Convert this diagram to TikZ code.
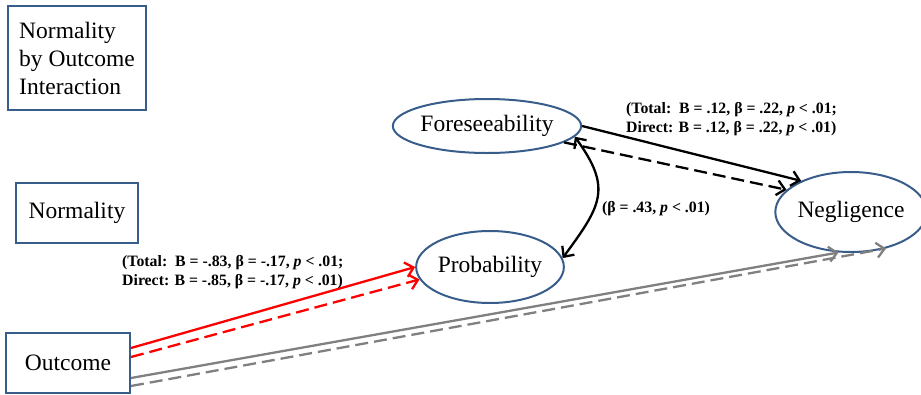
\documentclass[tikz,border=0pt]{standalone}
\usepackage{fontspec}
\setmainfont{Liberation Serif}
\usetikzlibrary{arrows.meta,positioning,shapes.geometric}
\definecolor{frameblue}{RGB}{56,93,138}
\definecolor{pathgray}{RGB}{128,128,128}
\begin{document}
\begin{tikzpicture}[x=1pt,y=-1pt,
box/.style={draw=frameblue,line width=2pt,align=left,inner sep=0pt,font=\fontsize{23.5}{28}\selectfont},
oval/.style={ellipse,draw=frameblue,line width=2pt,inner sep=0pt,font=\fontsize{23.5}{28}\selectfont},
lbl/.style={font=\bfseries\fontsize{15.8}{18.5}\selectfont,align=left,inner sep=0pt},
arr/.style={-{Straight Barb[length=8pt,width=15pt]},line width=2.3pt},
darr/.style={{Straight Barb[length=8pt,width=15pt]}-{Straight Barb[length=8pt,width=15pt]},line width=2.3pt},
dsh/.style={dash pattern=on 13pt off 6pt}]
\useasboundingbox (0,0) rectangle (921,394);
\node[box,minimum width=138pt,minimum height=104pt](inter) at (77,58){Normality\\by Outcome\\Interaction};
\node[box,minimum width=122pt,minimum height=60pt](norm) at (77,213){Normality};
\node[box,minimum width=124pt,minimum height=60pt](outc) at (68,363){Outcome};
\node[oval,minimum width=187pt,minimum height=54pt](fore) at (487,126){Foreseeability};
\node[oval,minimum width=146pt,minimum height=72pt](prob) at (490,267){Probability};
\node[oval,minimum width=136pt,minimum height=80pt](negl) at (851,212){Negligence};
% paths from outcome
\draw[arr,red]([yshift=15pt]outc.east)--(prob.west);
\draw[arr,red,dsh]([yshift=6pt]outc.east)--(prob.190);
\draw[arr,pathgray]([yshift=-15pt]outc.east)--(negl.253);
\draw[arr,pathgray,dsh]([yshift=-23pt]outc.east)--(negl.314);
% paths from foreseeability
\draw[arr](fore.east)--(negl.148);\draw[arr,dsh](fore.-12)--(negl.161);
\draw[darr](fore.-7) .. controls +(38,52) and +(38,-52) .. (prob.7);
% coefficients
\node[lbl,anchor=west](forecoef) at (626,119){(Total:\ \ B = .12, β = .22, \textit{p} < .01;\\Direct: B = .12, β = .22, \textit{p} < .01)};
\node[lbl](corrcoef) at (656,209){(β = .43, \textit{p} < .01)};
\node[lbl,anchor=west](probcoef) at (122,272){(Total:\ \ B = -.83, β = -.17, \textit{p} < .01;\\Direct: B = -.85, β = -.17, \textit{p} < .01)};
\end{tikzpicture}
\end{document}
